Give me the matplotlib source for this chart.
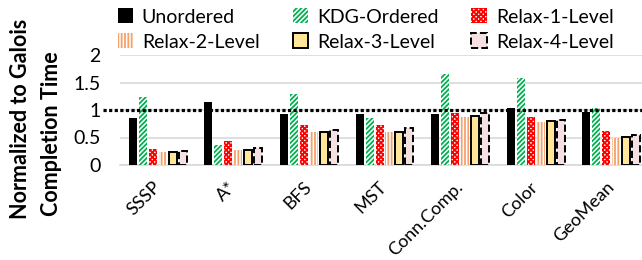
import numpy as np
import matplotlib
matplotlib.use("Agg")
from matplotlib import pyplot as plt

plt.rcParams['font.family'] = ['Lato', 'DejaVu Sans']
plt.rcParams['hatch.linewidth'] = 1.3

# data
benchmarks = ["SSSP", "A*", "BFS", "MST", "Conn.Comp.", "Color", "GeoMean"]
unordered = [0.85, 1.15, 0.92, 0.93, 0.92, 1.04, 0.96]
kdg_ordered = [1.24, 0.36, 1.29, 0.86, 1.65, 1.58, 1.04]
relax_1 = [0.29, 0.43, 0.72, 0.72, 0.95, 0.88, 0.62]
relax_2 = [0.24, 0.27, 0.60, 0.60, 0.88, 0.78, 0.50]
relax_3 = [0.23, 0.28, 0.60, 0.60, 0.89, 0.80, 0.51]
relax_4 = [0.25, 0.31, 0.63, 0.67, 0.94, 0.82, 0.545]

series = [
    ("Unordered", unordered, dict(color="black")),
    ("KDG-Ordered", kdg_ordered, dict(facecolor="white", edgecolor="#00B050", hatch="///////", linewidth=0)),
    ("Relax-1-Level", relax_1, dict(facecolor="white", edgecolor="#FF0000", hatch="xxxxxxx", linewidth=0)),
    ("Relax-2-Level", relax_2, dict(facecolor="white", edgecolor="#F4A16A", hatch="|||||", linewidth=0)),
    ("Relax-3-Level", relax_3, dict(facecolor="#FFE699", edgecolor="black", linewidth=1.4)),
    ("Relax-4-Level", relax_4, dict(facecolor="#F5E1E1", edgecolor="black", linewidth=1.4, linestyle="--")),
]

fig = plt.figure(figsize=(6.42, 2.6), dpi=100)
ax = fig.add_axes([120/642, 95/260, 529/642, 110/260])

x = np.arange(len(benchmarks))
step = 0.132
width = 0.106
handles = []
for i, (name, vals, style) in enumerate(series):
    b = ax.bar(x + (i - 2.5) * step, vals, width, label=name, zorder=3, **style)
    handles.append(b)

ax.set_xlim(-0.5, len(benchmarks) - 0.5)
ax.set_ylim(0, 2)
ax.set_yticks([0, 0.5, 1, 1.5, 2])
ax.set_yticklabels(["0", "0.5", "1", "1.5", "2"], fontsize=14)
ax.yaxis.grid(True, color="#D9D9D9", linewidth=1.2, zorder=0)
ax.tick_params(axis="both", length=0)
ax.tick_params(axis="y", pad=14)
for s in ["top", "right", "left"]:
    ax.spines[s].set_visible(False)
ax.spines["bottom"].set_color("#D9D9D9")
ax.spines["bottom"].set_linewidth(1.2)

ax.set_xticks(x)
ax.set_xticklabels(benchmarks, fontsize=13, rotation=45, ha="right", va="center",
                   rotation_mode="anchor")
ax.tick_params(axis="x", pad=14)

# dotted reference line at 1
ax.plot([-0.73, len(benchmarks)], [1, 1], color="black", linewidth=2.3,
        linestyle=(0, (1.0, 0.75)), clip_on=False, zorder=4)

fig.text(21/642, 1 - 119/260, "Normalized to Galois", rotation=90, fontsize=15.5,
         fontweight="bold", ha="center", va="center")
fig.text(52/642, 1 - 134/260, "Completion Time", rotation=90, fontsize=15.5,
         fontweight="bold", ha="center", va="center")

# legend filled row by row
order = [0, 3, 1, 4, 2, 5]
fig.legend([handles[k] for k in order], [series[k][0] for k in order],
           loc="upper left", bbox_to_anchor=(100/642, 1.035), ncol=3, frameon=False,
           fontsize=14, handlelength=0.8, handleheight=0.8, handletextpad=0.45,
           columnspacing=1.7, labelspacing=0.4)

fig.savefig("out.png", dpi=100)
